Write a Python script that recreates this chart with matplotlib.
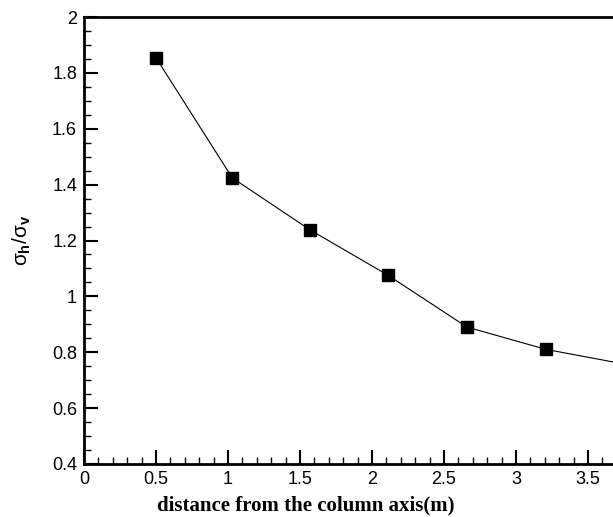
import matplotlib.pyplot as plt
from matplotlib.ticker import MultipleLocator

# distance from column axis (m) and stress ratio sigma_h / sigma_v
distance = [0.5, 1.03, 1.57, 2.11, 2.66, 3.21, 3.75]
stress_ratio = [1.854, 1.424, 1.238, 1.076, 0.890, 0.810, 0.758]

plt.rcParams['font.family'] = ['Liberation Sans', 'DejaVu Sans']
plt.rcParams['mathtext.fontset'] = 'custom'
plt.rcParams['mathtext.rm'] = 'Liberation Sans'
plt.rcParams['mathtext.it'] = 'Liberation Sans'
plt.rcParams['mathtext.bf'] = 'Liberation Sans:bold'

fig = plt.figure(figsize=(6.13, 5.17), dpi=100)
ax = fig.add_axes([84 / 613, 53 / 517, 1 - 84 / 613, 447 / 517])

ax.plot(distance, stress_ratio, color='black', linewidth=0.8,
        marker='s', markersize=9, markerfacecolor='black', markeredgecolor='black')

ax.set_xlim(0, 529 / 144)
ax.set_ylim(0.4, 2.0)
ax.xaxis.set_major_locator(MultipleLocator(0.5))
ax.xaxis.set_minor_locator(MultipleLocator(0.1))
ax.yaxis.set_major_locator(MultipleLocator(0.2))
ax.yaxis.set_minor_locator(MultipleLocator(0.05))
ax.xaxis.set_major_formatter(plt.FuncFormatter(lambda v, p: f'{v:g}'))
ax.yaxis.set_major_formatter(plt.FuncFormatter(lambda v, p: f'{v:g}'))

ax.tick_params(which='major', direction='in', length=10, width=1.5, labelsize=13, pad=5)
ax.tick_params(which='minor', direction='in', length=5, width=1)
ax.tick_params(axis='x', which='both', top=False)
ax.tick_params(axis='y', which='both', right=False)

for side in ['left', 'bottom', 'top']:
    ax.spines[side].set_linewidth(2)
ax.spines['right'].set_visible(False)

ax.set_xlabel('distance from the column axis(m)', family='Liberation Serif',
              fontweight='bold', fontsize=15, va='center')
ax.xaxis.set_label_coords((306 - 84) / 529, (464 - 505) / 447)
ax.set_ylabel(r'$\sigma_\mathbf{h}/\sigma_\mathbf{v}$', fontsize=15, va='center')
ax.yaxis.set_label_coords((22 - 84) / 529, (464 - 240) / 447)

fig.savefig('out.png', dpi=100)
